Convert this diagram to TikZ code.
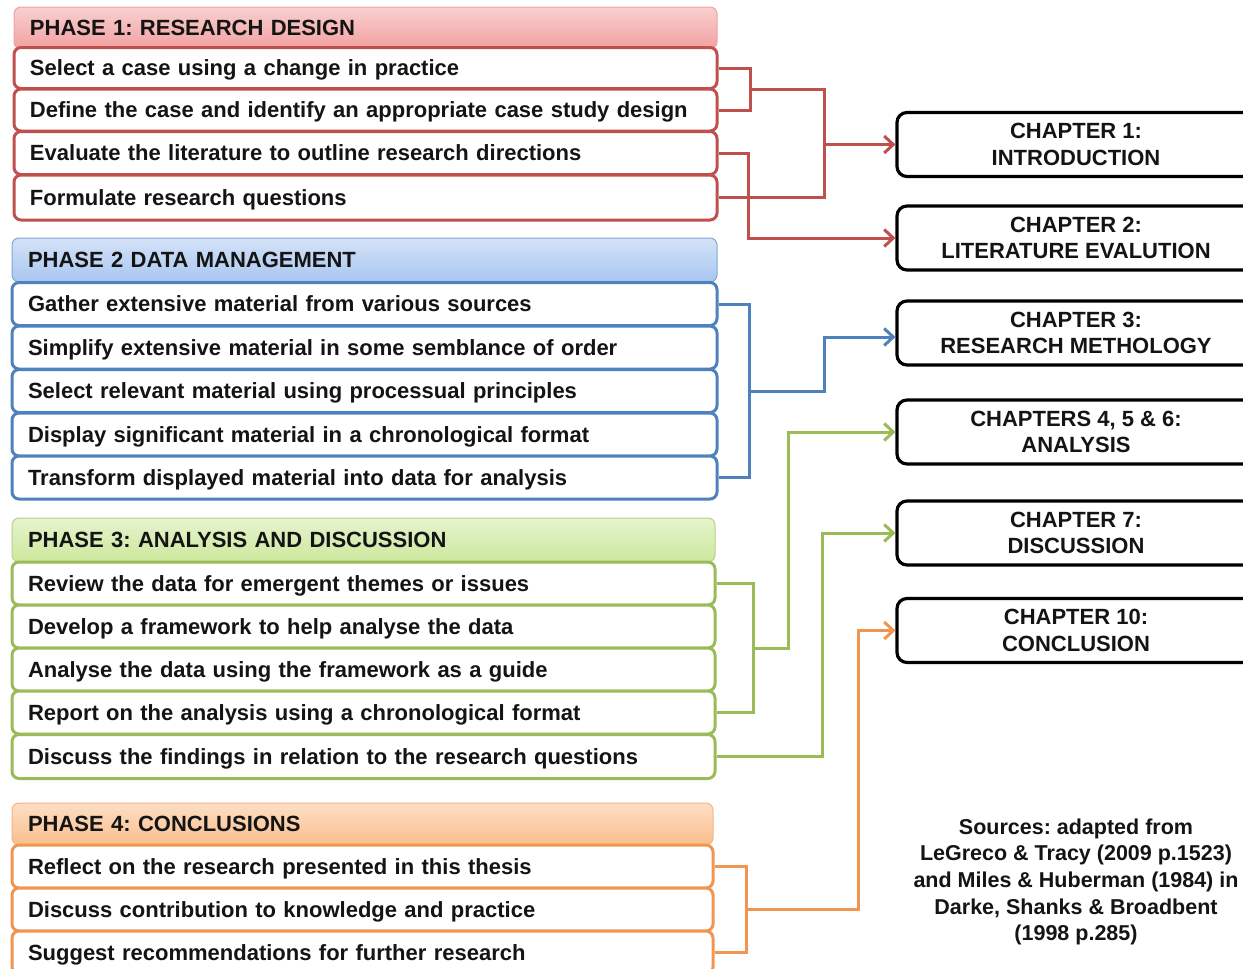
\documentclass[tikz,border=0pt]{standalone}
\usepackage{fontspec}
\setmainfont{Liberation Sans}
\usetikzlibrary{arrows.meta,calc}
\frenchspacing

% phase colours: border / connector, header gradient bottom
\definecolor{redB}{RGB}{192,80,77}
\definecolor{redL}{RGB}{242,160,160}
\definecolor{bluB}{RGB}{79,129,189}
\definecolor{bluL}{RGB}{168,198,240}
\definecolor{grnB}{RGB}{155,187,89}
\definecolor{grnL}{RGB}{204,232,156}
\definecolor{orgB}{RGB}{240,150,80}
\definecolor{orgL}{RGB}{250,190,140}
\definecolor{txt}{RGB}{20,20,20}

\tikzset{
  lbl/.style={font=\bfseries\fontsize{22}{26.5}\selectfont, text=txt},
  oneline/.style={text height=16pt, text depth=0.5pt},
  header/.style 2 args={lbl, oneline, draw=#1, line width=1pt, top color=#2!50!white, bottom color=#2,
    rounded corners=7pt, inner xsep=16pt, align=left, minimum height=42pt},
  rowbox/.style={lbl, oneline, draw=#1, line width=3pt, fill=white, rounded corners=7pt,
    inner xsep=16pt, align=left, minimum height=43pt},
  chapbox/.style={lbl, draw=black, line width=3.2pt, fill=white, rounded corners=10pt,
    minimum width=358pt, minimum height=64pt, align=center},
  link/.style={draw=#1, line width=3pt, line join=miter},
  arrowlink/.style={link=#1, -{Straight Barb[length=9pt,width=17pt,line width=3pt]}}
}

\begin{document}
\begin{tikzpicture}[x=1pt,y=-1pt]
\useasboundingbox (0,0) rectangle (1243,969);
\clip (0,0) rectangle (1243,969);
\fill[white] (0,0) rectangle (1243,969);

% ---------- Phase 1 ----------
\node[header={redL}{redL}, text width=671pt] (h1) at (365.5,28) {PHASE 1: RESEARCH DESIGN};
\node[rowbox=redB, text width=671pt, minimum height=41pt] (p1a) at (365.5,68) {Select a case using a change in practice};
\node[rowbox=redB, text width=671pt, minimum height=42pt] (p1b) at (365.5,110) {Define the case and identify an appropriate case study design};
\node[rowbox=redB, text width=671pt, minimum height=43pt] (p1c) at (365.5,153) {Evaluate the literature to outline research directions};
\node[rowbox=redB, text width=671pt, minimum height=45pt] (p1d) at (365.5,197.5) {Formulate research questions};

% ---------- Phase 2 ----------
\node[header={bluB!70!white}{bluL}, text width=673pt, minimum height=44pt] (h2) at (364.5,260) {PHASE 2 DATA MANAGEMENT};
\node[rowbox=bluB, text width=673pt] (p2a) at (364.5,304) {Gather extensive material from various sources};
\node[rowbox=bluB, text width=673pt] (p2b) at (364.5,347.5) {Simplify extensive material in some semblance of order};
\node[rowbox=bluB, text width=673pt] (p2c) at (364.5,391) {Select relevant material using processual principles};
\node[rowbox=bluB, text width=673pt] (p2d) at (364.5,434.5) {Display significant material in a chronological format};
\node[rowbox=bluB, text width=673pt] (p2e) at (364.5,477.5) {Transform displayed material into data for analysis};

% ---------- Phase 3 ----------
\node[header={grnB!70!white}{grnL}, text width=671pt, minimum height=44pt] (h3) at (363.5,540) {PHASE 3: ANALYSIS AND DISCUSSION};
\node[rowbox=grnB, text width=671pt] (p3a) at (363.5,583.5) {Review the data for emergent themes or issues};
\node[rowbox=grnB, text width=671pt] (p3b) at (363.5,626.5) {Develop a framework to help analyse the data};
\node[rowbox=grnB, text width=671pt] (p3c) at (363.5,669.5) {Analyse the data using the framework as a guide};
\node[rowbox=grnB, text width=671pt] (p3d) at (363.5,712.5) {Report on the analysis using a chronological format};
\node[rowbox=grnB, text width=671pt, minimum height=44pt] (p3e) at (363.5,756.5) {Discuss the findings in relation to the research questions};

% ---------- Phase 4 ----------
\node[header={orgB!70!white}{orgL}, text width=669pt] (h4) at (362.5,824) {PHASE 4: CONCLUSIONS};
\node[rowbox=orgB, text width=669pt] (p4a) at (362.5,866.5) {Reflect on the research presented in this thesis};
\node[rowbox=orgB, text width=669pt] (p4b) at (362.5,909.5) {Discuss contribution to knowledge and practice};
\node[rowbox=orgB, text width=669pt] (p4c) at (362.5,952.5) {Suggest recommendations for further research};

% ---------- Thesis chapters ----------
\node[chapbox] (ch1) at (1076,144.5) {CHAPTER 1:\\INTRODUCTION};
\node[chapbox] (ch2) at (1076,238) {CHAPTER 2:\\LITERATURE EVALUTION};
\node[chapbox] (ch3) at (1076,333) {CHAPTER 3:\\RESEARCH METHOLOGY};
\node[chapbox] (ch4) at (1076,432) {CHAPTERS 4, 5 \& 6:\\ANALYSIS};
\node[chapbox] (ch7) at (1076,533) {CHAPTER 7:\\DISCUSSION};
\node[chapbox] (ch10) at (1076,630.5) {CHAPTER 10:\\CONCLUSION};

\node[lbl, align=center, font=\bfseries\fontsize{21.5}{26.7}\selectfont] (src) at (1076,882) {Sources: adapted from\\LeGreco \& Tracy (2009 p.1523)\\and Miles \& Huberman (1984) in\\Darke, Shanks \& Broadbent\\(1998 p.285)};

% ---------- junction points of the brackets ----------
\coordinate (k1) at (750,89);
\coordinate (k2) at (824,144.5);
\coordinate (k3) at (748,238);
\coordinate (k4) at (749,391);
\coordinate (k5) at (824,337);
\coordinate (k6) at (753,648);
\coordinate (k7) at (788,432);
\coordinate (k8) at (822,533);
\coordinate (k9) at (746,909.5);
\coordinate (k10) at (858,630.5);

% ---------- connectors ----------
\draw[link=redB] (p1a.east) -| (k1) |- (p1b.east);
\draw[link=redB] (p1d.east) -| (k2);
\draw[arrowlink=redB] (k1) -| (k2) -- (ch1.west);
\draw[arrowlink=redB] (p1c.east) -| (k3) -- (ch2.west);

\draw[link=bluB] (p2a.east) -| (k4) |- (p2e.east);
\draw[arrowlink=bluB] (k4) -| (k5) -- (ch3.west |- k5);

\draw[link=grnB] (p3a.east) -| (k6) |- (p3d.east);
\draw[arrowlink=grnB] (k6) -| (k7) -- (ch4.west);
\draw[arrowlink=grnB] (p3e.east) -| (k8) -- (ch7.west);

\draw[link=orgB] (p4a.east) -| (k9) |- (p4c.east);
\draw[arrowlink=orgB] (k9) -| (k10) -- (ch10.west);
\end{tikzpicture}
\end{document}
